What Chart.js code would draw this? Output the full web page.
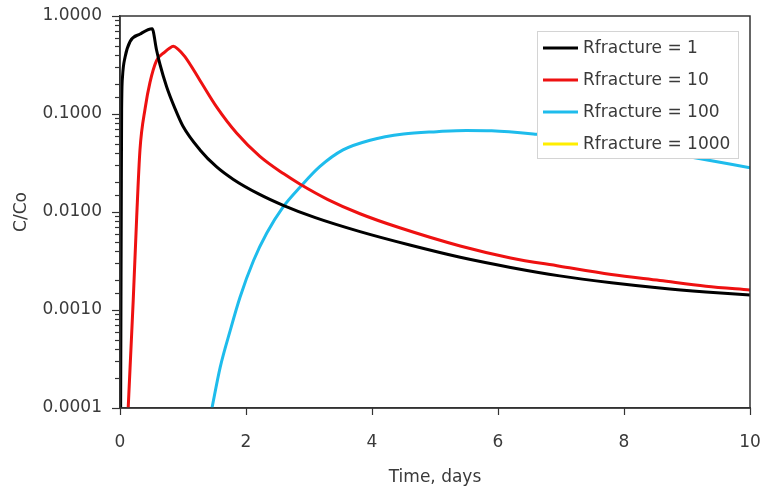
<!DOCTYPE html>
<html>
<head>
<meta charset="utf-8">
<title>C/Co vs time</title>
<script src="https://cdn.jsdelivr.net/npm/chart.js@4/dist/chart.umd.min.js"></script>
<style>
  html, body { margin: 0; padding: 0; background: #fff; }
  #wrap { width: 764px; height: 492px; position: relative; }
</style>
</head>
<body>
<div id="wrap"><canvas id="concChart"></canvas></div>
<script>
// breakthrough curves, time in days, concentration as C/Co
const seriesLabels = ['Rfracture = 1', 'Rfracture = 10', 'Rfracture = 100', 'Rfracture = 1000'];
const seriesColors = ['#000000', '#ee1111', '#1ebcec', '#ffee00'];

const timeR1 = [0.01, 0.015, 0.02, 0.026, 0.04, 0.08, 0.16, 0.32, 0.51, 0.58, 0.635, 0.74, 0.87, 1.0, 1.27, 1.53, 1.8, 2.2, 2.59, 3.1, 3.81, 4.6, 5.4, 6.2, 6.98, 7.8, 8.57, 9.3, 10];
const concR1 = [0.0001, 0.001, 0.01, 0.11, 0.24, 0.38, 0.55, 0.655, 0.74, 0.45, 0.32, 0.19, 0.115, 0.075, 0.043, 0.029, 0.0215, 0.0153, 0.0117, 0.00875, 0.0063, 0.0046, 0.00345, 0.00272, 0.00223, 0.0019, 0.00168, 0.00153, 0.00142];

const timeR10 = [0.13, 0.16, 0.21, 0.265, 0.317, 0.40, 0.476, 0.58, 0.714, 0.78, 0.846, 0.92, 1.03, 1.27, 1.53, 1.85, 2.22, 2.6, 2.86, 3.3, 3.81, 4.44, 5.4, 6.2, 6.98, 7.8, 8.57, 9.3, 10];
const concR10 = [0.0001, 0.00026, 0.00126, 0.0089, 0.043, 0.115, 0.21, 0.35, 0.43, 0.466, 0.49, 0.46, 0.385, 0.22, 0.119, 0.064, 0.037, 0.0245, 0.0192, 0.0134, 0.0096, 0.0069, 0.0045, 0.0034, 0.0028, 0.0023, 0.002, 0.00175, 0.0016];

const timeR100 = [1.46, 1.59, 1.75, 1.905, 2.12, 2.33, 2.59, 2.86, 3.17, 3.54, 3.97, 4.5, 5.03, 5.5, 5.9, 6.61, 7.5, 8.3, 9.1, 10];
const concR100 = [0.0001, 0.00026, 0.00062, 0.00135, 0.0032, 0.0061, 0.0113, 0.018, 0.029, 0.043, 0.054, 0.0625, 0.066, 0.068, 0.0675, 0.062, 0.053, 0.045, 0.036, 0.0283];

// R = 1000 stays below the plotted range over 0-10 days
const timeR1000 = [];
const concR1000 = [];

const xTicks = [0, 2, 4, 6, 8, 10];

const FONT = 'DejaVu Sans';
const TEXT = '#3a3a3a';
const AXIS = '#333333';

function toPoints(ts, vs) {
    return ts.map((t, i) => ({ x: t, y: vs[i] }));
}

function isDecade(v) {
    const l = Math.log10(v);
    return Math.abs(l - Math.round(l)) < 1e-6;
}

// frame round the plot area plus tick marks:
// y ticks long at decades and short in between, x ticks at the labelled values
const framePlugin = {
    id: 'frame',
    afterDatasetsDraw(chart) {
        const { ctx, chartArea: a } = chart;
        const x = chart.scales.x;
        const y = chart.scales.y;
        ctx.save();
        ctx.strokeStyle = AXIS;
        ctx.lineWidth = 1.5;
        ctx.strokeRect(a.left, a.top, a.right - a.left, a.bottom - a.top);
        ctx.lineWidth = 1.2;
        y.ticks.forEach(t => {
            const py = Math.round(y.getPixelForValue(t.value)) + 0.5;
            const len = isDecade(t.value) ? 8 : 5;
            ctx.beginPath();
            ctx.moveTo(a.left - len, py);
            ctx.lineTo(a.left, py);
            ctx.stroke();
        });
        x.ticks.forEach(t => {
            const px = Math.round(x.getPixelForValue(t.value)) + 0.5;
            ctx.beginPath();
            ctx.moveTo(px, a.bottom);
            ctx.lineTo(px, a.bottom + 7);
            ctx.stroke();
        });
        ctx.restore();
    }
};

// boxed legend inside the top right of the plot
const legendPlugin = {
    id: 'boxLegend',
    afterDraw(chart) {
        const { ctx, chartArea: a } = chart;
        const left = a.right - 213;
        const top = a.top + 15;
        const w = 201, h = 127, rowH = 32;
        ctx.save();
        ctx.fillStyle = '#ffffff';
        ctx.fillRect(left, top, w, h);
        ctx.strokeStyle = '#d4d4d4';
        ctx.lineWidth = 1;
        ctx.strokeRect(left + 0.5, top + 0.5, w, h);
        ctx.font = '17px "' + FONT + '"';
        ctx.textBaseline = 'middle';
        chart.data.datasets.forEach((ds, i) => {
            const cy = top + 17 + i * rowH;
            ctx.strokeStyle = ds.borderColor;
            ctx.lineWidth = 3;
            ctx.beginPath();
            ctx.moveTo(left + 6, cy);
            ctx.lineTo(left + 41, cy);
            ctx.stroke();
            ctx.fillStyle = TEXT;
            ctx.fillText(ds.label, left + 46, cy + 1);
        });
        ctx.restore();
    }
};

const datasets = [
    toPoints(timeR1, concR1),
    toPoints(timeR10, concR10),
    toPoints(timeR100, concR100),
    toPoints(timeR1000, concR1000)
].map((pts, i) => ({
    label: seriesLabels[i],
    data: pts,
    borderColor: seriesColors[i],
    backgroundColor: seriesColors[i],
    borderWidth: 3,
    pointRadius: 0,
    cubicInterpolationMode: 'monotone',
    fill: false
}));

new Chart(document.getElementById('concChart'), {
    type: 'line',
    data: { datasets: datasets },
    options: {
        responsive: true,
        maintainAspectRatio: false,
        animation: false,
        layout: { padding: { top: 16, right: 14, left: 0, bottom: 0 } },
        plugins: {
            legend: { display: false },
            tooltip: { enabled: false }
        },
        scales: {
            x: {
                type: 'linear',
                min: 0,
                max: 10,
                afterFit: s => { s.height = 84; },
                afterBuildTicks: s => { s.ticks = xTicks.map(v => ({ value: v })); },
                // tick marks come from the frame plugin; the hidden ticks only space the labels
                grid: { drawOnChartArea: false, tickLength: 24, tickColor: 'rgba(0,0,0,0)' },
                border: { color: AXIS, width: 1.5 },
                ticks: { color: TEXT, font: { family: FONT, size: 17 }, padding: 0, maxRotation: 0 },
                title: {
                    display: true,
                    text: 'Time, days',
                    color: TEXT,
                    font: { family: FONT, size: 17 },
                    padding: { top: 0, bottom: 4 }
                }
            },
            y: {
                type: 'logarithmic',
                min: 0.0001,
                max: 1,
                afterFit: s => { s.width = 120; },
                grid: { drawOnChartArea: false, tickLength: 18, tickColor: 'rgba(0,0,0,0)' },
                border: { color: AXIS, width: 1.5 },
                ticks: {
                    autoSkip: false,
                    color: TEXT,
                    font: { family: FONT, size: 17 },
                    padding: 0,
                    callback: v => isDecade(v) ? v.toFixed(4) : ''
                },
                title: {
                    display: true,
                    text: 'C/Co',
                    color: TEXT,
                    font: { family: FONT, size: 17 },
                    padding: { top: 11, bottom: 0 }
                }
            }
        }
    },
    plugins: [framePlugin, legendPlugin]
});
</script>
</body>
</html>
